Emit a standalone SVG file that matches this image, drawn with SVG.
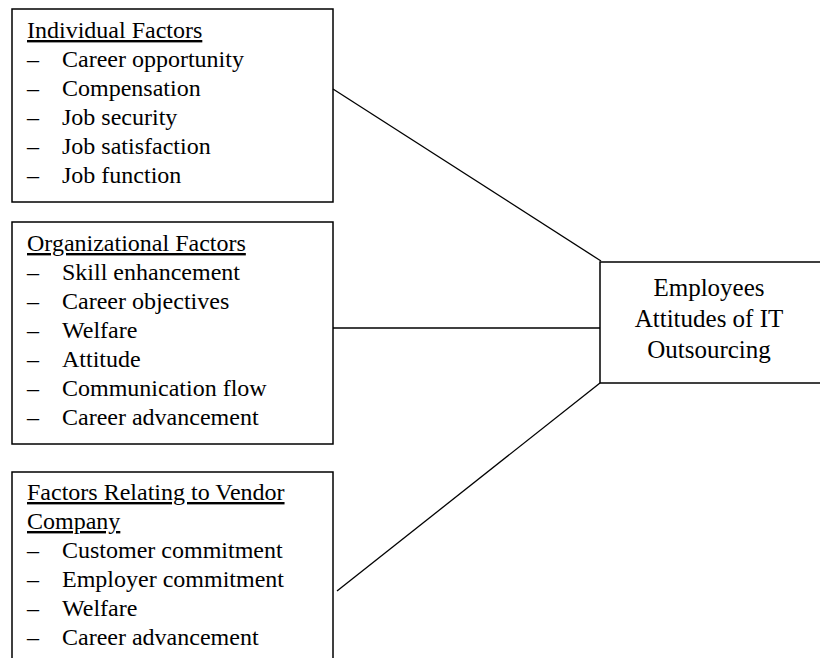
<svg xmlns="http://www.w3.org/2000/svg" width="820" height="658" viewBox="0 0 820 658">
<style>
.box{fill:#fff;stroke:#000;stroke-width:1.5}
.t{font-family:"Liberation Serif","Times New Roman",serif;font-size:24px;fill:#000}
.h{text-decoration:underline}
.c{text-anchor:middle;font-size:25px}
.conn line{stroke:#000;stroke-width:1.3}
</style>
<rect width="820" height="658" fill="#fff"/>
<g id="individual">
<rect class="box" x="12" y="9" width="321" height="193"/>
<text class="t h" x="27" y="38">Individual Factors</text>
<g class="t">
<text x="27" y="67">–</text><text x="62" y="67">Career opportunity</text>
<text x="27" y="96">–</text><text x="62" y="96">Compensation</text>
<text x="27" y="125">–</text><text x="62" y="125">Job security</text>
<text x="27" y="154">–</text><text x="62" y="154">Job satisfaction</text>
<text x="27" y="183">–</text><text x="62" y="183">Job function</text>
</g>
</g>
<g id="organizational">
<rect class="box" x="12" y="222" width="321" height="222"/>
<text class="t h" x="27" y="251">Organizational Factors</text>
<g class="t">
<text x="27" y="280">–</text><text x="62" y="280">Skill enhancement</text>
<text x="27" y="309">–</text><text x="62" y="309">Career objectives</text>
<text x="27" y="338">–</text><text x="62" y="338">Welfare</text>
<text x="27" y="367">–</text><text x="62" y="367">Attitude</text>
<text x="27" y="396">–</text><text x="62" y="396">Communication flow</text>
<text x="27" y="425">–</text><text x="62" y="425">Career advancement</text>
</g>
</g>
<g id="vendor">
<rect class="box" x="12" y="472" width="321" height="200"/>
<text class="t h" x="27" y="500">Factors Relating to Vendor</text>
<text class="t h" x="27" y="529">Company</text>
<g class="t">
<text x="27" y="558">–</text><text x="62" y="558">Customer commitment</text>
<text x="27" y="587">–</text><text x="62" y="587">Employer commitment</text>
<text x="27" y="616">–</text><text x="62" y="616">Welfare</text>
<text x="27" y="645">–</text><text x="62" y="645">Career advancement</text>
</g>
</g>
<g id="attitudes">
<rect class="box" x="600" y="262" width="230" height="121"/>
<text class="t c" x="709" y="296">Employees</text>
<text class="t c" x="709" y="327">Attitudes of IT</text>
<text class="t c" x="709" y="358">Outsourcing</text>
</g>
<g id="connectors" class="conn">
<line x1="333" y1="89" x2="601" y2="261"/>
<line x1="333" y1="328" x2="600" y2="328"/>
<line x1="337" y1="591" x2="600" y2="383"/>
</g>
</svg>
